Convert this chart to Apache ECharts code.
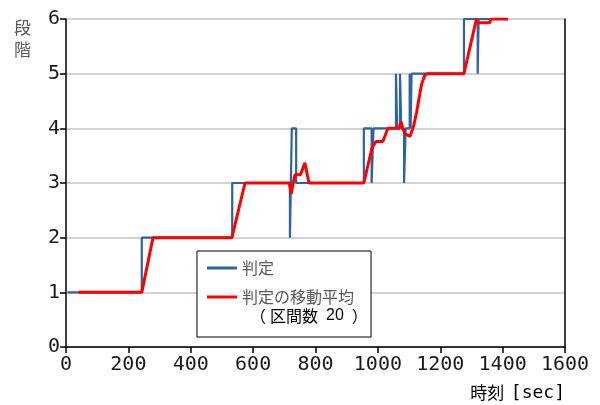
<!DOCTYPE html>
<html lang="ja">
<head>
    <meta charset="utf-8"/>
    <script src="https://cdn.jsdelivr.net/npm/echarts@6.0.0/dist/echarts.min.js"></script>
    <title></title>
    <style>
        html, body { margin: 0; padding: 0; background: #fff; }
    </style>
</head>
<body>
<div id="main" style="width: 600px;height:405px;"></div>
<script type="text/javascript">

    // 判定 (step values), [time, level]
    var judgeTime = [5, 243, 243, 533, 533, 718, 718, 724, 724, 738, 738, 955, 955, 980, 980, 986, 986,
        1058, 1058, 1062, 1062, 1071, 1071, 1075, 1075, 1084, 1084, 1089, 1089, 1102, 1102, 1105, 1105,
        1108, 1108, 1276, 1276, 1320, 1320, 1323, 1323, 1417];
    var judgeLevel = [1, 1, 2, 2, 3, 3, 2, 2, 4, 4, 3, 3, 4, 4, 3, 3, 4,
        4, 5, 5, 4, 4, 5, 5, 4, 4, 3, 3, 4, 4, 5, 5, 4,
        4, 5, 5, 6, 6, 5, 5, 6, 6];

    // 判定の移動平均 (区間数 20)
    var avgTime = [40, 243, 279, 532, 574, 716, 722, 734, 752, 766, 779, 955, 981, 994, 1016, 1032,
        1068, 1074, 1080, 1087, 1103, 1115, 1124, 1140, 1151, 1160, 1276, 1316, 1318, 1359, 1362, 1417];
    var avgLevel = [1, 1, 2, 2, 3, 3, 2.8, 3.15, 3.15, 3.37, 3, 3, 3.64, 3.76, 3.76, 4,
        4, 4.12, 4, 3.9, 3.85, 4.05, 4.29, 4.8, 4.98, 5, 5, 6, 5.93, 5.93, 6, 6];

    var xTicks = [0, 1600, 200];
    var yTicks = [0, 6, 1];

    function pairs(xs, ys) {
        var out = [];
        for (var i = 0; i < xs.length; i++) out.push([xs[i], ys[i]]);
        return out;
    }

    var monoFont = 'DejaVu Sans Mono';
    var cjkFont = 'Noto Sans CJK JP';

    var myChart = echarts.init(document.getElementById('main'));

    var option = {
        animation: false,
        grid: {left: 66, right: 35, top: 19, bottom: 58},
        xAxis: {
            type: 'value',
            min: xTicks[0], max: xTicks[1], interval: xTicks[2],
            axisLine: {show: true, lineStyle: {color: '#000', width: 1.5}},
            axisTick: {show: true, inside: false, length: 6, lineStyle: {color: '#000', width: 1.5}},
            axisLabel: {
                fontFamily: monoFont, fontSize: 20, color: '#1a1a1a', margin: 8,
                formatter: function (v) { return String(v); }
            },
            splitLine: {show: false}
        },
        yAxis: [{
            type: 'value',
            min: yTicks[0], max: yTicks[1], interval: yTicks[2],
            axisLine: {show: true, lineStyle: {color: '#000', width: 1.5}},
            axisTick: {show: true, inside: false, length: 6, lineStyle: {color: '#000', width: 1.5}},
            axisLabel: {fontFamily: monoFont, fontSize: 20, color: '#1a1a1a', margin: 6},
            splitLine: {show: true, lineStyle: {color: '#c4c4c4', width: 1.5}}
        }, {
            type: 'value',
            position: 'right',
            min: yTicks[0], max: yTicks[1], interval: yTicks[2],
            axisLine: {show: true, lineStyle: {color: '#000', width: 1.5}},
            axisTick: {show: false},
            axisLabel: {show: false},
            splitLine: {show: false}
        }],
        legend: {
            orient: 'vertical',
            left: 197,
            top: 251,
            padding: [7, 17, 30, 10],
            itemGap: 9,
            itemWidth: 30,
            itemHeight: 3,
            borderColor: '#000',
            borderWidth: 1,
            backgroundColor: '#fff',
            textStyle: {fontFamily: cjkFont, fontSize: 16, color: '#595959', lineHeight: 20},
            data: [
                {name: '判定', icon: 'rect'},
                {name: '判定の移動平均', icon: 'rect'}
            ]
        },
        graphic: [
            {
                type: 'text', left: 14, top: 17, z: 10,
                style: {text: '段\n階', font: '17px "Noto Sans CJK JP"', fill: '#595959', lineHeight: 22}
            },
            {
                type: 'text', left: 250, top: 308, z: 100,
                style: {
                    text: '{p|（}{a|区間数}{b|20}{q|）}',
                    rich: {
                        p: {fontFamily: cjkFont, fontSize: 16, color: '#595959', padding: [0, 4, 0, 2]},
                        a: {fontFamily: cjkFont, fontSize: 16, color: '#595959'},
                        b: {fontFamily: 'Liberation Sans', fontSize: 16, color: '#1a1a1a', padding: [0, 8, 0, 8]},
                        q: {fontFamily: cjkFont, fontSize: 16, color: '#595959'}
                    }
                }
            },
            {
                type: 'text', right: 35, top: 384, z: 10,
                style: {
                    text: '{a|時刻}  {b|[sec]}',
                    rich: {
                        a: {fontFamily: cjkFont, fontSize: 17, color: '#595959'},
                        b: {fontFamily: monoFont, fontSize: 18, color: '#1a1a1a'}
                    }
                }
            }
        ],
        series: [
            {
                name: '判定',
                type: 'line',
                showSymbol: false,
                symbol: 'none',
                lineStyle: {color: '#2e62a0', width: 2.2},
                itemStyle: {color: '#2e62a0'},
                data: pairs(judgeTime, judgeLevel)
            },
            {
                name: '判定の移動平均',
                type: 'line',
                showSymbol: false,
                symbol: 'none',
                lineStyle: {color: '#ff0000', width: 3},
                itemStyle: {color: '#ff0000'},
                data: pairs(avgTime, avgLevel)
            }
        ]
    };
    myChart.setOption(option);
</script>
</body>
</html>
